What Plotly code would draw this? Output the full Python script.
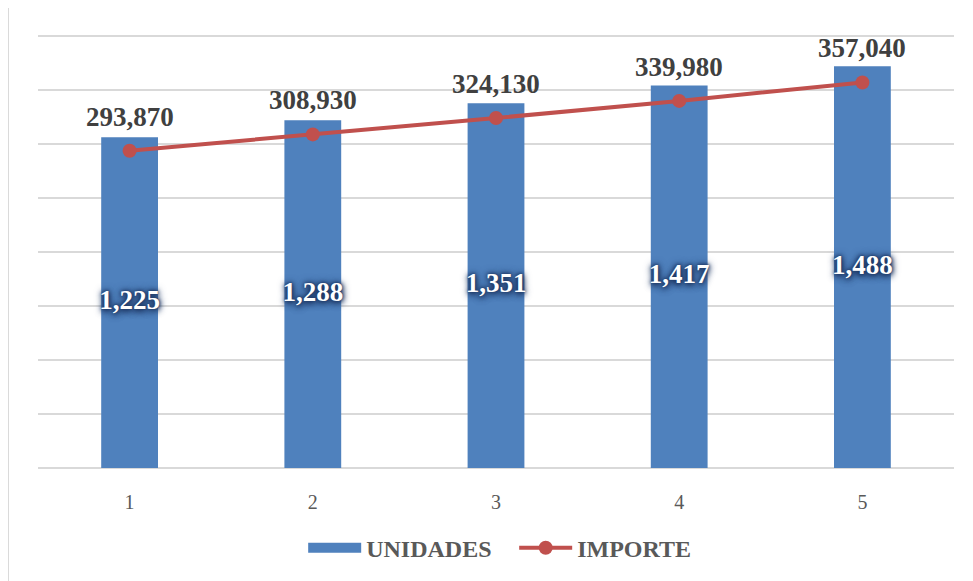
import plotly.graph_objects as go

# data
periodos = ["1", "2", "3", "4", "5"]
unidades = [1225, 1288, 1351, 1417, 1488]
importe = [293870, 308930, 324130, 339980, 357040]

serif = "Liberation Serif, Times New Roman, serif"
azul = "#4f81bd"
rojo = "#c0504d"

fig = go.Figure()

fig.add_trace(go.Bar(
    x=periodos, y=unidades, name="UNIDADES", showlegend=False,
    marker=dict(color=azul, line=dict(width=0)),
    width=0.31, hoverinfo="skip",
))

# bar labels, placed mid-bar via an axis with twice the range
fig.add_trace(go.Scatter(
    x=periodos, y=unidades, yaxis="y3", mode="text", showlegend=False,
    text=[f"{v:,}" for v in unidades],
    textposition="middle center",
    textfont=dict(family=serif, size=27, color="white", weight="bold",
                  shadow="0px 0px 3px #1f3864, 0px 0px 5px #1f3864, 0px 0px 8px #1f3864, 0px 3px 6px #1f3864"),
    hoverinfo="skip",
))

# legend stand-in for the bars (wide block like the original)
fig.add_trace(go.Scatter(
    x=[periodos[0]], y=[None], name="UNIDADES", mode="lines",
    line=dict(color=azul, width=11),
))

fig.add_trace(go.Scatter(
    x=periodos, y=importe, name="IMPORTE", yaxis="y2",
    mode="lines+markers",
    line=dict(color=rojo, width=4),
    marker=dict(color=rojo, size=14),
    hoverinfo="skip",
))

for i, v in enumerate(importe):
    fig.add_annotation(x=i, y=v, yref="y2", text=f"{v:,}", showarrow=False,
                       yshift=34, font=dict(family=serif, size=27, color="#404040", weight="bold"))

# light frame around the chart
fig.add_shape(type="rect", xref="paper", yref="paper",
              x0=-0.0328, x1=1.05, y0=-0.35, y1=1.069,
              line=dict(color="#d9d9d9", width=2), layer="below")

fig.update_layout(
    width=973, height=581,
    margin=dict(l=30, r=27, t=27, b=121),
    paper_bgcolor="white", plot_bgcolor="white",
    showlegend=True,
    legend=dict(orientation="h", x=0.2895, xanchor="left", y=-0.185, yanchor="middle",
                font=dict(family=serif, size=24, color="#595959", weight="bold"),
                itemwidth=53, entrywidth=143, traceorder="normal"),
    xaxis=dict(type="category", range=[-0.5, 4.5], showgrid=False, showline=False,
               zeroline=False, ticks="", tickfont=dict(family=serif, size=20, color="#595959"),
               ticklabelstandoff=20),
    yaxis=dict(range=[0, 1604], tick0=0, dtick=200, showgrid=True, gridcolor="#d9d9d9",
               gridwidth=1.5, zeroline=True, zerolinecolor="#d9d9d9", zerolinewidth=2,
               showticklabels=False),
    yaxis2=dict(range=[0, 401000], overlaying="y", side="right", showgrid=False,
                zeroline=False, showticklabels=False),
    yaxis3=dict(range=[0, 3208], overlaying="y", showgrid=False,
                zeroline=False, showticklabels=False),
)

fig.write_html("out.html")
